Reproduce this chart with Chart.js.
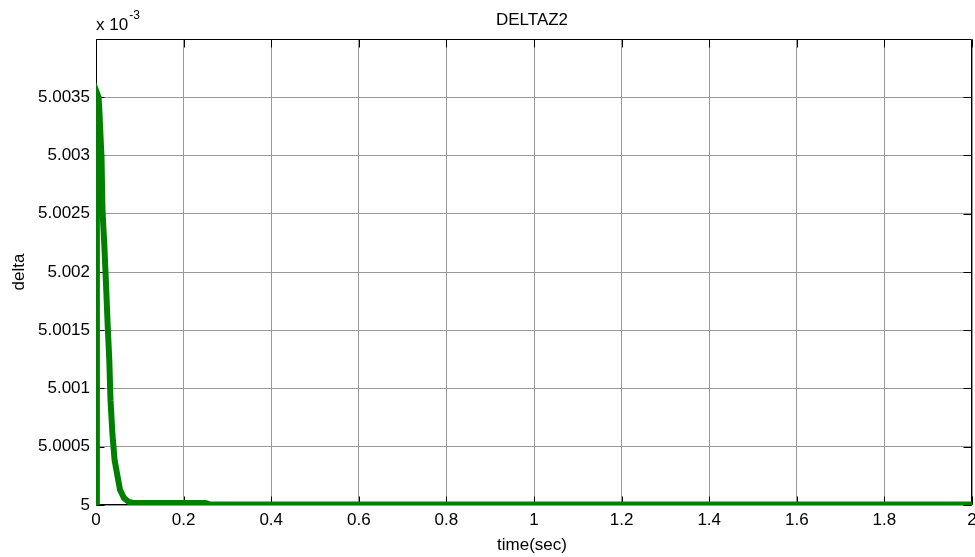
<!DOCTYPE html>
<html>
<head>
<meta charset="utf-8">
<script src="https://cdn.jsdelivr.net/npm/chart.js@4.4.0/dist/chart.umd.min.js"></script>
<style>
  html, body { margin: 0; padding: 0; background: #fff; }
  #wrap { width: 975px; height: 557px; }
</style>
</head>
<body>
<div id="wrap"><canvas id="deltaChart"></canvas></div>
<script>
// simulation output, values shown in units of 1e-3
const times = [0, 0.002, 0.004, 0.006, 0.008, 0.0126, 0.0148, 0.019, 0.0228, 0.0267,
  0.0304, 0.0331, 0.0377, 0.0423, 0.048, 0.0548, 0.064, 0.075, 0.085, 0.25, 0.26, 2];
const delta = [5.0, 5.0034, 5.00352, 5.0035, 5.00336, 5.00298, 5.00253, 5.00223, 5.0019, 5.00154,
  5.00124, 5.0009, 5.0006, 5.00039, 5.00027, 5.00013, 5.00006, 5.000026, 5.000017, 5.000017, 5.000005, 5.000005];

const xTicks = [0, 0.2, 0.4, 0.6, 0.8, 1, 1.2, 1.4, 1.6, 1.8, 2];
const xTickLabels = ["0", "0.2", "0.4", "0.6", "0.8", "1", "1.2", "1.4", "1.6", "1.8", "2"];
const yTicks = [5, 5.0005, 5.001, 5.0015, 5.002, 5.0025, 5.003, 5.0035];
const yTickLabels = ["5", "5.0005", "5.001", "5.0015", "5.002", "5.0025", "5.003", "5.0035"];

const FONT = "'Liberation Sans', Arial, sans-serif";

const matlabFrame = {
  id: "matlabFrame",
  beforeDatasetsDraw(chart) {
    const { ctx, chartArea: { left, right, top, bottom }, scales: { x, y } } = chart;
    const tickLen = 8;
    ctx.save();
    ctx.strokeStyle = "#000";
    ctx.lineWidth = 1;
    ctx.beginPath();
    const l = Math.round(left) + 0.5, r = Math.round(right) - 0.5;
    const t = Math.round(top) + 0.5, b = Math.round(bottom) - 0.5;
    ctx.rect(l, t, r - l, b - t);
    xTicks.forEach((v) => {
      const px = Math.round(x.getPixelForValue(v)) + 0.5;
      ctx.moveTo(px, b); ctx.lineTo(px, b - tickLen);
      ctx.moveTo(px, t); ctx.lineTo(px, t + tickLen);
    });
    yTicks.forEach((v) => {
      const py = Math.round(y.getPixelForValue(v)) + 0.5;
      ctx.moveTo(l, py); ctx.lineTo(l + tickLen, py);
      ctx.moveTo(r, py); ctx.lineTo(r - tickLen, py);
    });
    ctx.stroke();
    ctx.restore();
  },
  afterDraw(chart) {
    const { ctx } = chart;
    ctx.save();
    ctx.fillStyle = "#000";
    ctx.font = "17px " + FONT;
    ctx.textAlign = "center";
    ctx.textBaseline = "alphabetic";
    ctx.fillText("DELTAZ2", 532, 25);
    ctx.fillText("time(sec)", 532, 550);
    ctx.textAlign = "left";
    ctx.fillText("x 10", 96, 30);
    const w = ctx.measureText("x 10").width;
    ctx.font = "12px " + FONT;
    ctx.fillText("-3", 96 + w + 1, 19);
    ctx.font = "17px " + FONT;
    ctx.translate(24, 272);
    ctx.rotate(-Math.PI / 2);
    ctx.textAlign = "center";
    ctx.fillText("delta", 0, 0);
    ctx.restore();
  },
};

new Chart(document.getElementById("deltaChart"), {
  type: "line",
  data: {
    datasets: [
      {
        label: "delta",
        data: times.map((t, i) => ({ x: t, y: delta[i] })),
        borderColor: "#008000",
        borderWidth: 6,
        pointRadius: 0,
        tension: 0,
        fill: false,
        clip: 0,
      },
    ],
  },
  options: {
    responsive: true,
    maintainAspectRatio: false,
    animation: false,
    layout: { padding: { top: 39, right: 3, left: 0, bottom: 0 } },
    plugins: {
      legend: { display: false },
      tooltip: { enabled: false },
    },
    scales: {
      x: {
        type: "linear",
        min: 0,
        max: 2,
        afterBuildTicks: (s) => { s.ticks = xTicks.map((v) => ({ value: v })); },
        afterFit: (s) => { s.height = 52; s.paddingLeft = 0; s.paddingRight = 0; },
        ticks: {
          callback: (v, i) => xTickLabels[i],
          color: "#000",
          font: { family: FONT, size: 17 },
          padding: 5,
          maxRotation: 0,
          autoSkip: false,
        },
        grid: { color: "#999", drawTicks: false },
        border: { display: false },
      },
      y: {
        min: 5,
        max: 5.004,
        afterBuildTicks: (s) => { s.ticks = yTicks.map((v) => ({ value: v })); },
        afterFit: (s) => { s.width = 96; s.paddingTop = 0; s.paddingBottom = 0; },
        ticks: {
          callback: (v, i) => yTickLabels[i],
          color: "#000",
          font: { family: FONT, size: 17 },
          padding: 6,
          autoSkip: false,
        },
        grid: { color: "#999", drawTicks: false },
        border: { display: false },
      },
    },
  },
  plugins: [matlabFrame],
});
</script>
</body>
</html>
